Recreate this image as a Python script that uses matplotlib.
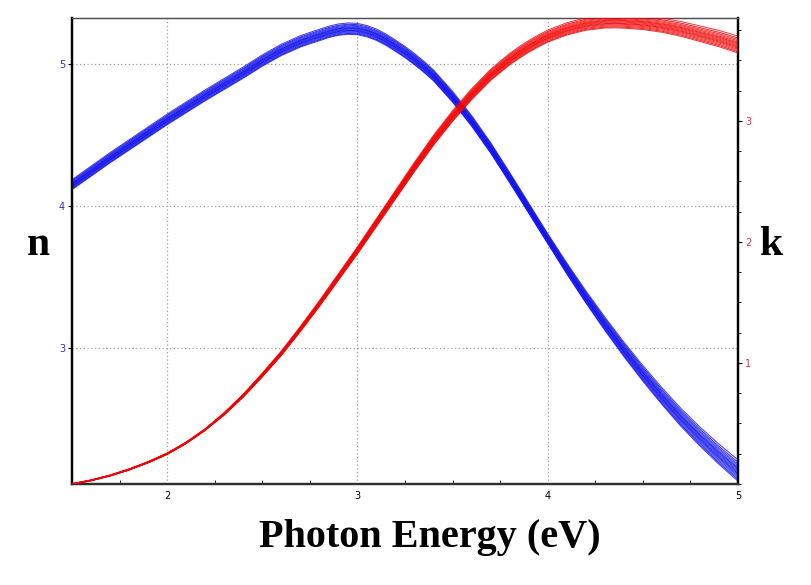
import numpy as np
import matplotlib
matplotlib.use("Agg")
import matplotlib.pyplot as plt
from matplotlib.ticker import MultipleLocator

# ---- data ----
energy = [1.5, 1.6, 1.7, 1.8, 1.9, 2.0, 2.1, 2.2, 2.3, 2.4, 2.5, 2.6,
          2.65, 2.7, 2.75, 2.8, 2.85, 2.9, 2.95, 3.0, 3.05, 3.1, 3.15, 3.2,
          3.25, 3.3, 3.35, 3.4,
          3.5, 3.6, 3.7, 3.8,
          3.85, 3.9, 3.95, 4.0, 4.05, 4.1, 4.15, 4.2, 4.25, 4.3, 4.35, 4.4,
          4.45, 4.5, 4.55, 4.6,
          4.7, 4.8, 4.9, 5.0]
n_values = [4.15, 4.245, 4.34, 4.43, 4.52, 4.61, 4.695, 4.78, 4.86, 4.94, 5.025, 5.10,
            5.13, 5.16, 5.183, 5.205, 5.227, 5.243, 5.25, 5.247, 5.232, 5.207, 5.172, 5.13,
            5.085, 5.035, 4.98, 4.92,
            4.77, 4.60, 4.41, 4.20,
            4.093, 3.985, 3.877, 3.77, 3.665, 3.56, 3.46, 3.36, 3.265, 3.17, 3.08, 2.99,
            2.905, 2.82, 2.74, 2.66,
            2.51, 2.375, 2.25, 2.135]
k_values = [0.00, 0.03, 0.07, 0.12, 0.18, 0.25, 0.34, 0.45, 0.58, 0.73, 0.90, 1.08,
            1.18, 1.28, 1.385, 1.49, 1.60, 1.71, 1.82, 1.93, 2.045, 2.16, 2.275, 2.39,
            2.505, 2.62, 2.73, 2.84,
            3.04, 3.22, 3.38, 3.51,
            3.565, 3.615, 3.66, 3.70, 3.73, 3.76, 3.78, 3.80, 3.81, 3.82, 3.822, 3.82,
            3.815, 3.81, 3.80, 3.79,
            3.76, 3.72, 3.68, 3.63]
# approximate half-width of the bundle of fitted curves (energy, half-width)
n_spread_at = [1.5, 2.5, 3.2, 4.0, 5.0]
n_spread = [0.035, 0.04, 0.04, 0.035, 0.075]
k_spread_at = [1.5, 2.2, 2.8, 3.5, 4.5, 5.0]
k_spread = [0.003, 0.007, 0.024, 0.044, 0.055, 0.07]
member_offsets = [-1.0, -0.85, -0.7, -0.55, -0.42, -0.3, -0.18, -0.06,
                  0.06, 0.18, 0.3, 0.45, 0.6, 0.78, 1.0]
x_ticks = [2, 3, 4, 5]
n_ticks = [3, 4, 5]
k_ticks = [1, 2, 3]

# ---- figure ----
fig = plt.figure(figsize=(8.12, 5.85), dpi=100)
ax = fig.add_axes([72 / 812, 1 - 484 / 585, (738 - 72) / 812, (484 - 18) / 585])
ax2 = ax.twinx()

E = np.array(energy)
n = np.array(n_values)
k = np.array(k_values)
ns = np.interp(E, n_spread_at, n_spread)
ks = np.interp(E, k_spread_at, k_spread)

for i, off in enumerate(member_offsets):
    col_n = "#0000b4" if i % 4 == 1 else "#1414ff"
    ax.plot(E, n + off * ns, color=col_n, lw=0.75, alpha=0.8, zorder=3,
            solid_joinstyle="round")
    col_k = "#c80000" if i % 4 == 1 else "#ff0808"
    ax2.plot(E, k + off * ks, color=col_k, lw=0.75, alpha=0.8, zorder=3,
             solid_joinstyle="round")

ax.set_xlim(1.5, 5.0)
ax.set_ylim(2.04, 5.325)
ax2.set_ylim(0.0, 3.85)

ax.set_xticks(x_ticks)
ax.set_yticks(n_ticks)
ax2.set_yticks(k_ticks)
ax.xaxis.set_minor_locator(MultipleLocator(0.25))
ax2.yaxis.set_minor_locator(MultipleLocator(0.25))

ax.grid(True, which="major", color="#a0a0a0", linestyle=(0, (1, 2)), lw=0.9)

ax.tick_params(axis="x", which="both", direction="in", length=3, labelsize=7,
               colors="black", pad=5)
ax.tick_params(axis="x", which="major", length=0)
ax.tick_params(axis="y", which="major", direction="out", length=3, labelsize=7,
               labelcolor="#3030c0", color="black", pad=2)
ax2.tick_params(axis="y", which="major", direction="out", length=3, labelsize=7,
                labelcolor="#e03050", color="black", pad=2)
ax2.tick_params(axis="y", which="minor", direction="out", length=2, color="black")

for a in (ax, ax2):
    for side in ("left", "right", "bottom"):
        a.spines[side].set_linewidth(1.6)
        a.spines[side].set_color("black")
    a.spines["bottom"].set_color("#303030")
    a.spines["top"].set_linewidth(0.9)
    a.spines["top"].set_color("#505050")

serif = ["Liberation Serif", "DejaVu Serif"]
fig.text(38 / 812, 1 - 245 / 585, "n", fontsize=30, fontweight="bold",
         family=serif, ha="center", va="center")
fig.text(772 / 812, 1 - 245 / 585, "k", fontsize=30, fontweight="bold",
         family=serif, ha="center", va="center")
fig.text(430 / 812, 1 - 537 / 585, "Photon Energy (eV)", fontsize=29,
         fontweight="bold", family=serif, ha="center", va="center")

fig.savefig("out.png", dpi=100)
